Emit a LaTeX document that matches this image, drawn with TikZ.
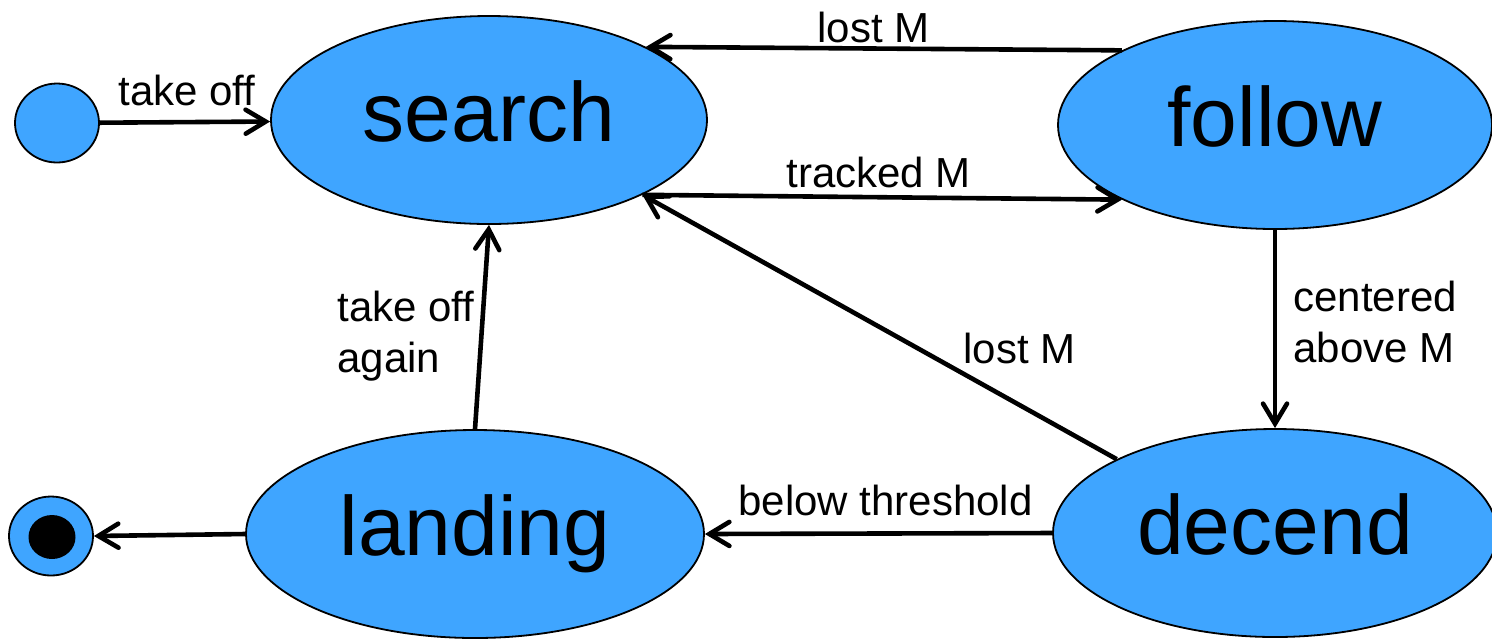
\documentclass[tikz,border=0pt]{standalone}
\usepackage{fontspec}
\setmainfont{Liberation Sans}
\usetikzlibrary{shapes.geometric,arrows.meta}
\definecolor{stateblue}{RGB}{63,165,255}
\begin{document}
\begin{tikzpicture}[x=0.5pt,y=-0.5pt,
  state/.style={ellipse,draw=black,line width=0.9pt,fill=stateblue,inner sep=0pt,
    minimum height=104pt,font=\fontsize{42}{50}\selectfont,text height=21pt,text depth=0pt},
  pseudo/.style={ellipse,draw=black,line width=0.9pt,fill=stateblue,inner sep=0pt,
    minimum width=42pt,minimum height=39.5pt},
  trans/.style={line width=2.3pt,
    -{Straight Barb[length=10pt,width=12pt,line width=2.3pt,line cap=round]}},
  lbl/.style={font=\fontsize{21}{25.5}\selectfont,inner sep=0pt,anchor=base west,align=left},
]
\useasboundingbox (0,0) rectangle (1492,639);

\node[state,minimum width=218pt] (search)  at (489,120) {search};
\node[state,minimum width=217pt] (follow)  at (1275,125) {follow};
\node[state,minimum width=229pt] (landing) at (475,534) {landing};
\node[state,minimum width=222pt] (decend)  at (1275,533) {decend};
\node[pseudo] (init)  at (57,123) {};
\node[pseudo] (final) at (51,536) {};
\node[ellipse,fill=black,inner sep=0pt,minimum width=23.5pt,minimum height=22pt] (finaldot) at (52,537) {};

\draw[trans] (init) -- (search);
\draw[trans] (follow.154) -- (search.25);
\draw[trans] (search.-26) -- (follow.206);
\draw[trans] (decend.155) -- (search.-26);
\draw[trans] (follow.south) -- (decend.north);
\draw[trans] (decend.west) -- (landing.east);
\draw[trans] (landing.north) -- (search.south);
\draw[trans] (landing.west) -- (final.east);

\node[lbl] (l1) at (118,105) {take off};
\node[lbl] (l2) at (817,42) {lost M};
\node[lbl] (l3) at (786,187) {tracked M};
\node[lbl] (l4) at (963,363) {lost M};
\node[lbl] (l5) at (738,515) {below threshold};
\node[lbl] (l6) at (1293,362) {centered\\above M};
\node[lbl] (l7) at (337,372) {take off\\again};
\end{tikzpicture}
\end{document}
